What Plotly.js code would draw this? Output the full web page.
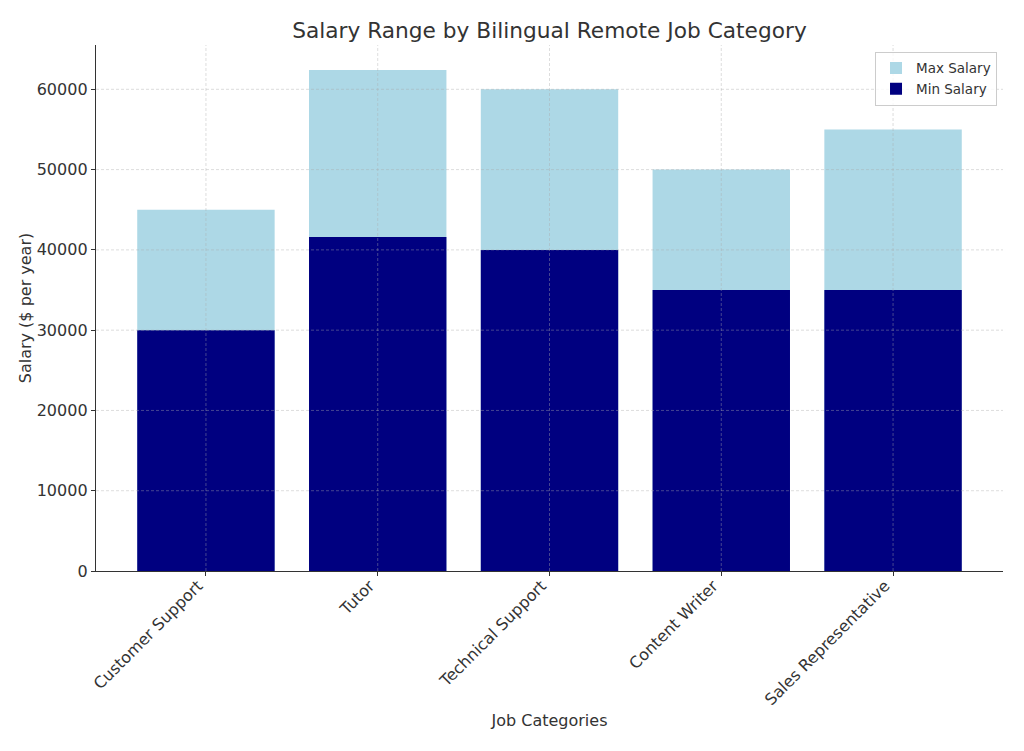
<!DOCTYPE html>
<html>
<head>
<meta charset="utf-8">
<script src="https://cdn.plot.ly/plotly-3.0.1.min.js"></script>
<style>html,body{margin:0;padding:0;background:#fff;}#chart{width:1024px;height:751px;}</style>
</head>
<body>
<div id="chart"></div>
<script>
const categories = ["Customer Support", "Tutor", "Technical Support", "Content Writer", "Sales Representative"];
const minSalary = [30000, 41600, 40000, 35000, 35000];
const maxSalary = [45000, 62400, 60000, 50000, 55000];
const yTicks = [0, 10000, 20000, 30000, 40000, 50000, 60000];

const font = "DejaVu Sans, sans-serif";
const textColor = "#333333";

const traces = [
  {type: "bar", name: "Max Salary", x: categories, y: maxSalary, width: 0.8,
   marker: {color: "#ADD8E6"}, hoverinfo: "x+y"},
  {type: "bar", name: "Min Salary", x: categories, y: minSalary, width: 0.8,
   marker: {color: "#000080"}, hoverinfo: "x+y"}
];

const gridStyle = {color: "rgba(170,170,170,0.5)", width: 0.8, dash: "3px,2px"};
const shapes = [];
yTicks.forEach(v => {
  if (v === 0) return;
  shapes.push({type: "line", layer: "above", xref: "paper", x0: 0, x1: 1, yref: "y", y0: v, y1: v, line: gridStyle});
});
categories.forEach((c, i) => {
  shapes.push({type: "line", layer: "above", xref: "x", x0: i, x1: i, yref: "paper", y0: 0, y1: 1, line: gridStyle});
});

const layout = {
  width: 1024, height: 751,
  margin: {l: 96, r: 21, t: 45, b: 180},
  paper_bgcolor: "#ffffff", plot_bgcolor: "#ffffff",
  barmode: "overlay",
  font: {family: font, color: textColor, size: 16},
  title: {text: "Salary Range by Bilingual Remote Job Category", font: {family: font, size: 21.7, color: textColor},
          x: 0.5366, xanchor: "center", y: 0.960, yanchor: "middle"},
  xaxis: {
    type: "category", range: [-0.64, 4.64], tickangle: -45,
    showgrid: false, zeroline: false, showline: true, linecolor: "#333333", linewidth: 1.2,
    ticks: "outside", ticklen: 4, tickcolor: "#333333",
    tickfont: {family: font, size: 16, color: textColor},
    ticklabelshift: -8, ticklabelstandoff: -6,
    title: {text: "Job Categories", font: {family: font, size: 16, color: textColor}, standoff: 6}
  },
  yaxis: {
    range: [0, 65520], tickvals: yTicks, ticktext: yTicks.map(String),
    showgrid: false, zeroline: false, showline: true, linecolor: "#333333", linewidth: 1.2,
    ticks: "outside", ticklen: 4, tickcolor: "#333333",
    tickfont: {family: font, size: 16, color: textColor},
    title: {text: "Salary ($ per year)", font: {family: font, size: 16, color: textColor}, standoff: 1}
  },
  legend: {x: 0.9934, xanchor: "right", y: 0.987, yanchor: "top",
           bordercolor: "#cccccc", borderwidth: 1, bgcolor: "rgba(255,255,255,0.8)",
           font: {family: font, size: 13.5, color: textColor}, traceorder: "normal"},
  shapes: shapes,
  showlegend: true
};

Plotly.newPlot("chart", traces, layout, {displayModeBar: false, staticPlot: true});
</script>
</body>
</html>
